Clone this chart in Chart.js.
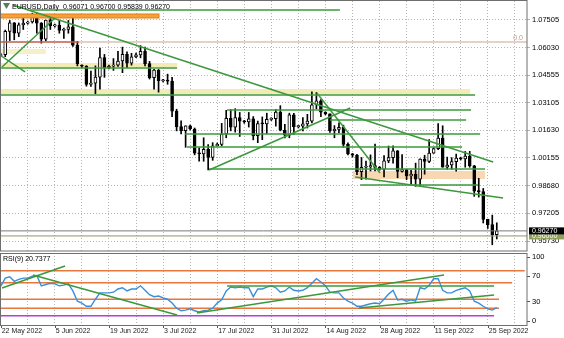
<!DOCTYPE html>
<html>
<head>
<meta charset="utf-8">
<script src="https://cdn.jsdelivr.net/npm/chart.js@4.4.1/dist/chart.umd.min.js"></script>
<style>
  html, body { margin: 0; padding: 0; background: #fff; }
  #wrap { position: relative; width: 564px; height: 338px; overflow: hidden; }
  #main { position: absolute; left: 0; top: 0; }
  #rsi { position: absolute; left: 0; top: 252px; }
</style>
</head>
<body>
<div id="wrap">
  <canvas id="main" width="564" height="252"></canvas>
  <canvas id="rsi" width="564" height="86"></canvas>
</div>
<script>
// EURUSD daily bars, 22 May 2022 (Sun) .. 27 Sep 2022, six bars a week
const opens = [
  1.0560, 1.0566, 1.0690, 1.0735, 1.0680, 1.0725,
  1.0733, 1.0740, 1.0780, 1.0734, 1.0648, 1.0750,
  1.0719, 1.0722, 1.0695, 1.0700, 1.0714, 1.0617,
  1.0510, 1.0505, 1.0407, 1.0414, 1.0446, 1.0550,
  1.0495, 1.0505, 1.0510, 1.0532, 1.0567, 1.0520,
  1.0554, 1.0565, 1.0583, 1.0518, 1.0443, 1.0484,
  1.0427, 1.0430, 1.0425, 1.0265, 1.0182, 1.0161,
  1.0186, 1.0170, 1.0041, 1.0037, 1.0062, 1.0019,
  1.0080, 1.0088, 1.0143, 1.0226, 1.0180, 1.0230,
  1.0211, 1.0208, 1.0224, 1.0134, 1.0199, 1.0197,
  1.0221, 1.0225, 1.0260, 1.0163, 1.0137, 1.0245,
  1.0182, 1.0185, 1.0197, 1.0212, 1.0298, 1.0320,
  1.0259, 1.0250, 1.0161, 1.0168, 1.0178, 1.0088,
  1.0037, 1.0030, 0.9942, 0.9966, 0.9968, 0.9975,
  0.9965, 0.9955, 1.0000, 1.0017, 1.0054, 0.9944,
  0.9954, 0.9920, 0.9928, 0.9902, 1.0009, 0.9997,
  1.0041, 1.0065, 1.0122, 0.9967, 0.9978, 0.9996,
  1.0015, 1.0010, 1.0026, 0.9973, 0.9838, 0.9836,
  0.9688, 0.9660, 0.96071
];
const highs = [
  1.0572, 1.0697, 1.0748, 1.0737, 1.0735, 1.0765,
  1.0745, 1.0787, 1.0786, 1.0737, 1.0750, 1.0765,
  1.0729, 1.0749, 1.0708, 1.0748, 1.0774, 1.0636,
  1.0512, 1.0507, 1.0478, 1.0506, 1.0601, 1.0567,
  1.0510, 1.0545, 1.0583, 1.0606, 1.0581, 1.0573,
  1.0574, 1.0614, 1.0606, 1.0530, 1.0487, 1.0487,
  1.0435, 1.0462, 1.0445, 1.0275, 1.0213, 1.0187,
  1.0190, 1.0175, 1.0069, 1.0123, 1.0087, 1.0097,
  1.0095, 1.0200, 1.0269, 1.0273, 1.0278, 1.0258,
  1.0216, 1.0258, 1.0236, 1.0212, 1.0234, 1.0254,
  1.0230, 1.0274, 1.0294, 1.0195, 1.0254, 1.0253,
  1.0190, 1.0230, 1.0248, 1.0368, 1.0364, 1.0327,
  1.0262, 1.0250, 1.0188, 1.0202, 1.0190, 1.0096,
  1.0040, 1.0035, 1.0018, 0.9999, 1.0032, 1.0090,
  0.9970, 1.0028, 1.0079, 1.0080, 1.0055, 1.0033,
  0.9955, 0.9950, 0.9988, 1.0011, 1.0030, 1.0113,
  1.0070, 1.0198, 1.0187, 1.0020, 1.0017, 1.0036,
  1.0020, 1.0050, 1.0051, 0.9976, 0.9907, 0.9853,
  0.9689, 0.9711, 0.96700
];
const lows = [
  1.0556, 1.0555, 1.0641, 1.0645, 1.0662, 1.0700,
  1.0728, 1.0734, 1.0680, 1.0627, 1.0640, 1.0700,
  1.0712, 1.0680, 1.0653, 1.0680, 1.0610, 1.0506,
  1.0495, 1.0398, 1.0397, 1.0358, 1.0382, 1.0445,
  1.0490, 1.0482, 1.0503, 1.0470, 1.0497, 1.0510,
  1.0550, 1.0549, 1.0506, 1.0436, 1.0382, 1.0366,
  1.0420, 1.0408, 1.0235, 1.0160, 1.0144, 1.0072,
  1.0165, 1.0032, 0.9999, 0.9998, 0.9952, 1.0003,
  1.0078, 1.0080, 1.0123, 1.0160, 1.0153, 1.0130,
  1.0200, 1.0180, 1.0112, 1.0097, 1.0113, 1.0145,
  1.0215, 1.0185, 1.0160, 1.0122, 1.0123, 1.0141,
  1.0175, 1.0160, 1.0175, 1.0202, 1.0278, 1.0236,
  1.0245, 1.0152, 1.0123, 1.0150, 1.0072, 1.0032,
  1.0020, 0.9926, 0.9900, 0.9902, 0.9946, 0.9947,
  0.9950, 0.9914, 0.9990, 0.9988, 0.9910, 0.9940,
  0.9900, 0.9877, 0.9864, 0.9864, 0.9929, 0.9990,
  1.0040, 1.0060, 0.9966, 0.9955, 0.9955, 0.9945,
  1.0005, 0.9966, 0.9966, 0.9811, 0.9807, 0.9669,
  0.9640, 0.9553, 0.95839
];
const closes = [
  1.0566, 1.0690, 1.0735, 1.0680, 1.0725, 1.0733,
  1.0740, 1.0780, 1.0734, 1.0648, 1.0750, 1.0719,
  1.0722, 1.0695, 1.0700, 1.0714, 1.0617, 1.0518,
  1.0505, 1.0407, 1.0414, 1.0446, 1.0550, 1.0495,
  1.0505, 1.0510, 1.0532, 1.0567, 1.0520, 1.0554,
  1.0565, 1.0583, 1.0518, 1.0443, 1.0484, 1.0427,
  1.0430, 1.0425, 1.0265, 1.0182, 1.0161, 1.0186,
  1.0170, 1.0041, 1.0037, 1.0062, 1.0019, 1.0080,
  1.0088, 1.0143, 1.0226, 1.0180, 1.0230, 1.0211,
  1.0208, 1.0224, 1.0134, 1.0199, 1.0197, 1.0221,
  1.0225, 1.0260, 1.0163, 1.0137, 1.0245, 1.0182,
  1.0185, 1.0197, 1.0212, 1.0298, 1.0320, 1.0259,
  1.0250, 1.0161, 1.0168, 1.0178, 1.0088, 1.0037,
  1.0030, 0.9942, 0.9966, 0.9968, 0.9975, 0.9965,
  0.9955, 1.0000, 1.0017, 1.0054, 0.9944, 0.9954,
  0.9920, 0.9928, 0.9902, 1.0009, 0.9997, 1.0041,
  1.0065, 1.0122, 0.9967, 0.9978, 0.9996, 1.0015,
  1.0010, 1.0026, 0.9973, 0.9838, 0.9836, 0.9688,
  0.9660, 0.9606, 0.96270
];

// RSI(9), one value per bar
const rsiValues = [
  54, 67, 69, 62, 65, 67, 67, 70, 71, 55,
  57, 59, 58, 55, 56, 58, 47, 31, 28, 23,
  23, 34, 44, 44, 44, 45, 50, 52, 47, 50,
  50, 55, 48, 41, 38, 39, 36, 34, 28, 20,
  16, 17, 19, 16, 14, 16, 17, 20, 28, 33,
  47, 53, 52, 53, 52, 52, 38, 50, 50, 53,
  55, 52, 45, 47, 53, 48, 47, 48, 52, 59,
  66, 61, 55, 45, 44, 44, 36, 31, 28, 23,
  23, 25, 27, 28, 27, 34, 42, 48, 33, 34,
  31, 33, 31, 52, 50, 56, 66, 66, 48, 44,
  44, 48, 50, 52, 47, 31, 28, 23, 19, 17, 20.7377
];

const priceTicks = [1.07505, 1.06030, 1.04555, 1.03105, 1.01630, 1.00155, 0.98680, 0.97205, 0.95730];
const rsiTicks = [0, 30, 70, 100];
const weekTicks = [0, 6, 12, 18, 24, 30, 36, 42, 48, 54, 60, 66, 72, 78, 84, 90, 96, 102, 108, 114];
const dateLabels = ['22 May 2022', '5 Jun 2022', '19 Jun 2022', '3 Jul 2022', '17 Jul 2022',
  '31 Jul 2022', '14 Aug 2022', '28 Aug 2022', '11 Sep 2022', '25 Sep 2022'];
const dateLabelBars = [0, 12, 24, 36, 48, 60, 72, 84, 96, 108];

// drawn objects on the price panel: [bar1, price1, bar2, price2]
const trendLines = [
  [6.5, 1.08038, 75.2, 1.08038],
  [2.73, 1.08304, 109.2, 0.99940],
  [-0.2, 1.04948, 39.1, 1.04948],
  [0.29, 1.05001, 12.04, 1.07612],
  [-0.2, 1.05640, 5.39, 1.04735],
  [-0.2, 1.03509, 105.2, 1.03509],
  [50.2, 1.02710, 104.3, 1.02710],
  [73.0, 1.02177, 103.2, 1.02177],
  [40.9, 1.01431, 106.3, 1.01431],
  [41.3, 1.00739, 102.3, 1.00739],
  [46.2, 0.99567, 107.4, 0.99567],
  [46.2, 0.99514, 77.5, 1.02817],
  [70.1, 1.03616, 84.1, 0.99354],
  [78.6, 0.99141, 111.4, 0.98022],
  [79.7, 0.98714, 105.8, 0.98714]
];
// zones: [bar1, bar2, priceTop, priceBottom]
const orangeZone = [-0.2, 35.1, 1.07825, 1.07612];
const yellowZones = [
  [-0.2, 39.1, 1.05214, 1.05001],
  [-0.2, 104.1, 1.03829, 1.03563]
];
const paleZone = [-0.2, 10, 1.05960, 1.05694];
const peachZone = [78.1, 107.4, 0.99460, 0.99034];
const redLine = [-0.2, 17.4, 1.06333];
const fibZero = 1.06333;
const levelLine = 0.96000;

// lines on the RSI panel
const rsiTrendLines = [
  [0.29, 51.6, 14.26, 85.9],
  [7.16, 71.9, 39.1, 9.4],
  [43.5, 12.5, 98.3, 71.9],
  [50.2, 54.7, 109.4, 54.7],
  [79.4, 20.3, 109.4, 40.6]
];
const rsiLevels = [78.6, 59.9, 33.9, 19.8];
const rsiLevelEnds = [116.2, 113.4, 110.5, 110.5];
const rsiFloor = [8.3, 109.4];

const FONT = '"Liberation Sans", Arial, sans-serif';
const GREEN = '#3c983c';
const GRID = '#b4b4b4';
const X_MIN = -0.16, X_MAX = 116.7;

function seg(ctx, x, y, a, b, c, d) {
  ctx.beginPath();
  ctx.moveTo(x.getPixelForValue(a), y.getPixelForValue(b));
  ctx.lineTo(x.getPixelForValue(c), y.getPixelForValue(d));
  ctx.stroke();
}
function zone(ctx, x, y, z) {
  const x1 = x.getPixelForValue(z[0]), x2 = x.getPixelForValue(z[1]);
  const y1 = y.getPixelForValue(z[2]), y2 = y.getPixelForValue(z[3]);
  ctx.fillRect(x1, y1, x2 - x1, y2 - y1);
  return [x1, y1, x2 - x1, y2 - y1];
}

const mainDecor = {
  id: 'mainDecor',
  beforeDatasetsDraw(chart) {
    const { ctx, chartArea: a, scales: { x, y } } = chart;
    ctx.save();
    ctx.beginPath();
    ctx.rect(a.left, a.top, a.right - a.left, a.bottom - a.top);
    ctx.clip();
    ctx.fillStyle = '#f6f0c9';
    zone(ctx, x, y, paleZone);
    ctx.fillStyle = '#f3ebb4';
    yellowZones.forEach(z => zone(ctx, x, y, z));
    ctx.fillStyle = '#f8d8b2';
    zone(ctx, x, y, peachZone);
    ctx.restore();
  },
  afterDatasetsDraw(chart) {
    const { ctx, chartArea: a, scales: { x, y } } = chart;
    ctx.save();
    ctx.beginPath();
    ctx.rect(a.left, a.top, a.right - a.left, a.bottom - a.top);
    ctx.clip();

    // orange zone
    ctx.fillStyle = '#f4a13a';
    const r = zone(ctx, x, y, orangeZone);
    ctx.strokeStyle = '#e57d16';
    ctx.lineWidth = 1;
    ctx.strokeRect(r[0], r[1], r[2], r[3]);

    // fibo 0.0 level and red segment
    ctx.strokeStyle = '#c9a68e';
    ctx.lineWidth = 1.2;
    seg(ctx, x, y, X_MIN, fibZero, X_MAX, fibZero);
    ctx.strokeStyle = '#c0392b';
    seg(ctx, x, y, redLine[0], redLine[2], redLine[1], redLine[2]);

    ctx.strokeStyle = GREEN;
    ctx.lineWidth = 1.5;
    trendLines.forEach(l => seg(ctx, x, y, l[0], l[1], l[2], l[3]));

    // bid line and level
    ctx.lineWidth = 1;
    ctx.strokeStyle = '#8c9a60';
    seg(ctx, x, y, X_MIN, levelLine, X_MAX, levelLine);
    ctx.strokeStyle = '#7a7a7a';
    const last = closes[closes.length - 1];
    seg(ctx, x, y, X_MIN, last, X_MAX, last);
    ctx.restore();

    ctx.save();
    ctx.font = '7px ' + FONT;
    ctx.textBaseline = 'middle';
    ctx.fillStyle = '#c09a7e';
    ctx.textAlign = 'right';
    ctx.fillText('0.0', a.right - 4, y.getPixelForValue(fibZero) - 4);

    // title
    ctx.textAlign = 'left';
    ctx.fillStyle = '#000';
    ctx.fillText('EURUSD,Daily  0.96071 0.96700 0.95839 0.96270', 12, 7);
    ctx.fillStyle = '#5a7a5a';
    ctx.beginPath();
    ctx.moveTo(3, 3); ctx.lineTo(10, 3); ctx.lineTo(6.5, 9);
    ctx.closePath();
    ctx.fill();

    // price boxes on the right axis
    const bx = a.right + 2;
    const yl = y.getPixelForValue(levelLine);
    ctx.fillStyle = '#8f9e58';
    ctx.fillRect(bx, yl - 3.5, 564 - bx, 7);
    ctx.fillStyle = '#fff';
    ctx.fillText(levelLine.toFixed(5), a.right + 5, yl + 0.5);
    const yb = y.getPixelForValue(last);
    ctx.fillStyle = '#000';
    ctx.fillRect(bx, yb - 3.5, 564 - bx, 7);
    ctx.fillStyle = '#fff';
    ctx.fillText(last.toFixed(5), a.right + 5, yb + 0.5);

    // frame
    ctx.strokeStyle = '#6e6e6e';
    ctx.lineWidth = 1;
    ctx.strokeRect(a.left + 0.5, a.top - 0.5, a.right - a.left - 0.5, a.bottom - a.top + 0.5);
    ctx.restore();
  }
};

const rsiDecor = {
  id: 'rsiDecor',
  beforeDatasetsDraw(chart) {
    const { ctx, chartArea: a, scales: { x, y } } = chart;
    ctx.save();
    ctx.lineWidth = 1.5;
    ctx.strokeStyle = '#e8773e';
    rsiLevels.forEach((v, i) => seg(ctx, x, y, X_MIN, v, rsiLevelEnds[i], v));
    ctx.strokeStyle = '#b43fd6';
    seg(ctx, x, y, X_MIN, rsiFloor[0], rsiFloor[1], rsiFloor[0]);
    ctx.restore();
  },
  afterDatasetsDraw(chart) {
    const { ctx, chartArea: a, scales: { x, y } } = chart;
    ctx.save();
    ctx.beginPath();
    ctx.rect(a.left, a.top, a.right - a.left, a.bottom - a.top);
    ctx.clip();
    ctx.strokeStyle = GREEN;
    ctx.lineWidth = 1.5;
    rsiTrendLines.forEach(l => seg(ctx, x, y, l[0], l[1], l[2], l[3]));
    ctx.restore();

    ctx.save();
    ctx.font = '7px ' + FONT;
    ctx.textBaseline = 'middle';
    ctx.textAlign = 'left';
    ctx.fillStyle = '#000';
    ctx.fillText('RSI(9) ' + rsiValues[rsiValues.length - 1].toFixed(4), 3, a.top + 6);

    ctx.fillStyle = '#222';
    ctx.strokeStyle = '#555';
    ctx.lineWidth = 1;
    dateLabels.forEach((t, i) => {
      const px = x.getPixelForValue(dateLabelBars[i]);
      ctx.fillText(t, px + 1, a.bottom + 6);
      ctx.beginPath();
      ctx.moveTo(Math.round(px) + 0.5, a.bottom);
      ctx.lineTo(Math.round(px) + 0.5, a.bottom + 3);
      ctx.stroke();
    });

    ctx.strokeStyle = '#6e6e6e';
    ctx.strokeRect(a.left + 0.5, a.top + 0.5, a.right - a.left - 0.5, a.bottom - a.top);
    ctx.restore();
  }
};

const xScale = (hideHeight) => ({
  type: 'linear',
  min: X_MIN,
  max: X_MAX,
  offset: false,
  afterBuildTicks: s => { s.ticks = weekTicks.map(v => ({ value: v })); },
  ticks: { display: false },
  grid: { color: GRID, drawTicks: false, offset: false },
  border: { display: false, dash: [1, 2] },
  afterFit: s => { s.height = hideHeight; s.paddingLeft = 0; s.paddingRight = 0; }
});

// keep the plot edges where the reference has them
const fitRight = s => { s.width = 37; s.paddingTop = 0; s.paddingBottom = 0; };

new Chart(document.getElementById('main'), {
  type: 'bar',
  data: {
    datasets: [
      {
        data: opens.map((o, i) => ({ x: i, y: [o, closes[i]] })),
        grouped: false,
        barThickness: 3,
        minBarLength: 1,
        borderWidth: 1,
        borderSkipped: false,
        borderColor: '#000',
        backgroundColor: c => closes[c.dataIndex] >= opens[c.dataIndex] ? '#fff' : '#000'
      },
      {
        data: lows.map((l, i) => ({ x: i, y: [l, highs[i]] })),
        grouped: false,
        barThickness: 1,
        borderWidth: 0,
        backgroundColor: '#000'
      }
    ]
  },
  options: {
    responsive: false,
    animation: false,
    layout: { padding: { top: 1, bottom: 1, left: 0, right: 0 } },
    plugins: { legend: { display: false }, tooltip: { enabled: false } },
    scales: {
      x: xScale(0),
      y: {
        position: 'right',
        min: 0.95198,
        max: 1.08517,
        afterBuildTicks: s => { s.ticks = priceTicks.map(v => ({ value: v })); },
        ticks: { font: { family: FONT, size: 7.5 }, color: '#000', padding: 2, callback: v => v.toFixed(5) },
        grid: { color: GRID, tickLength: 3 },
        border: { display: false, dash: [1, 2] },
        afterFit: fitRight
      }
    }
  },
  plugins: [mainDecor]
});

new Chart(document.getElementById('rsi'), {
  type: 'line',
  data: {
    datasets: [{
      data: rsiValues.map((v, i) => ({ x: i, y: v })),
      borderColor: '#3b8fd9',
      borderWidth: 1.4,
      pointRadius: 0,
      tension: 0
    }]
  },
  options: {
    responsive: false,
    animation: false,
    layout: { padding: { top: 1, bottom: 0, left: 0, right: 0 } },
    plugins: { legend: { display: false }, tooltip: { enabled: false } },
    scales: {
      x: xScale(13),
      y: {
        position: 'right',
        min: -6.25,
        max: 106.25,
        afterBuildTicks: s => { s.ticks = rsiTicks.map(v => ({ value: v })); },
        ticks: { font: { family: FONT, size: 7.5 }, color: '#000', padding: 2 },
        grid: { drawOnChartArea: false, tickLength: 3, color: '#555' },
        border: { display: false },
        afterFit: fitRight
      }
    }
  },
  plugins: [rsiDecor]
});
</script>
</body>
</html>
